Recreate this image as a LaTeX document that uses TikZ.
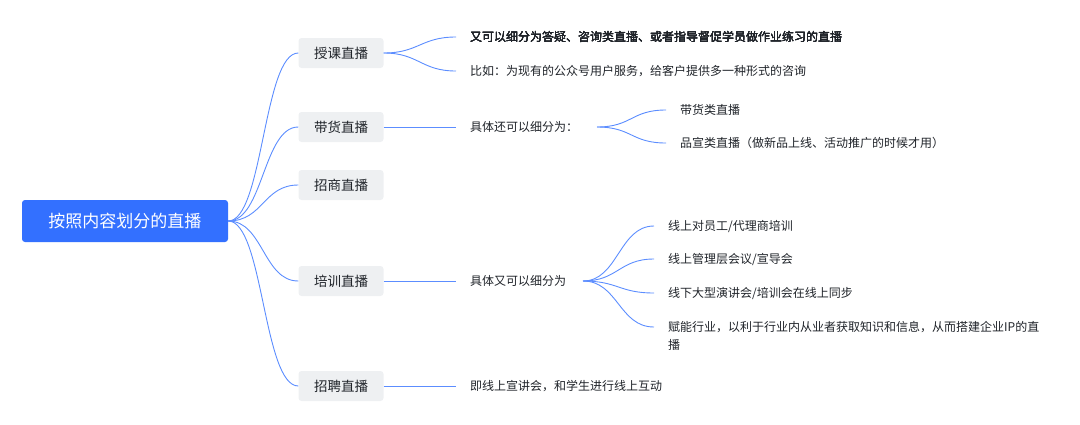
\documentclass[tikz,border=0pt]{standalone}
\usepackage{fontspec}
\setmainfont{Noto Sans CJK SC}
\usetikzlibrary{positioning}
\definecolor{mapblue}{HTML}{3370FF}
\definecolor{boxgray}{HTML}{EEF0F2}
\definecolor{txt}{HTML}{1F2329}
\tikzset{
  rootbox/.style={fill=mapblue,rounded corners=3pt,text=white,minimum width=206pt,minimum height=42pt,font=\fontsize{17}{19}\selectfont},
  topicbox/.style={fill=boxgray,rounded corners=3pt,text=txt,minimum width=85pt,minimum height=30pt,font=\fontsize{13.5}{15}\selectfont},
  leaf/.style={anchor=west,text=txt,inner sep=0pt,font=\fontsize{12}{18}\selectfont},
  link/.style={mapblue!80,line width=0.9pt}
}
\newcommand{\branch}[2]{\draw[link] (#1) .. controls +(35pt,0) and +(-35pt,0) .. (#2);}
\begin{document}
\begin{tikzpicture}[x=1pt,y=-1pt]
  \useasboundingbox (0,0) rectangle (1080,424);
  \node[rootbox] (root) at (125,221) {按照内容划分的直播};
  % topics
  \node[topicbox] (teach) at (341,53) {授课直播};
  \node[topicbox] (sell) at (341,127) {带货直播};
  \node[topicbox] (invest) at (341,185) {招商直播};
  \node[topicbox] (train) at (341,281) {培训直播};
  \node[topicbox] (hire) at (341,386) {招聘直播};
  \foreach \t in {teach,sell,invest,train,hire}
    \branch{root.east}{\t.west}
  % teach
  \node[leaf] (teachA) at (470,37) {又可以细分为答疑、咨询类直播、或者指导督促学员做作业练习的直播};
  \node[leaf] (teachB) at (470,71) {比如：为现有的公众号用户服务，给客户提供多一种形式的咨询};
  \coordinate (ta) at (456,37);
  \coordinate (tb) at (456,71);
  \branch{teach.east}{ta}
  \branch{teach.east}{tb}
  % sell
  \node[leaf] (sellA) at (470,127) {具体还可以细分为：};
  \coordinate (sa) at (456,127);
  \draw[link] (sell.east) -- (sa);
  \coordinate (sellR) at (597,127);
  \node[leaf] (sellB) at (680,110) {带货类直播};
  \node[leaf] (sellC) at (680,143) {品宣类直播（做新品上线、活动推广的时候才用）};
  \coordinate (sb) at (666,110);
  \coordinate (sc) at (666,143);
  \branch{sellR}{sb}
  \branch{sellR}{sc}
  % train
  \node[leaf] (trainA) at (470,281) {具体又可以细分为};
  \coordinate (tra) at (456,281);
  \draw[link] (train.east) -- (tra);
  \coordinate (trainR) at (583,281);
  \node[leaf] (trainB) at (668,226) {线上对员工/代理商培训};
  \node[leaf] (trainC) at (668,259) {线上管理层会议/宣导会};
  \node[leaf] (trainD) at (668,293) {线下大型演讲会/培训会在线上同步};
  \node[leaf,text width=400pt,align=left] (trainE) at (668,336) {赋能行业，以利于行业内从业者获取知识和信息，从而搭建企业IP的直\\播};
  \foreach \y in {226,259,293,327}
    \draw[link] (trainR) .. controls +(35pt,0) and +(-35pt,0) .. (654,\y);
  % hire
  \node[leaf] (hireA) at (470,386) {即线上宣讲会，和学生进行线上互动};
  \coordinate (ha) at (456,386);
  \draw[link] (hire.east) -- (ha);
\end{tikzpicture}
\end{document}
